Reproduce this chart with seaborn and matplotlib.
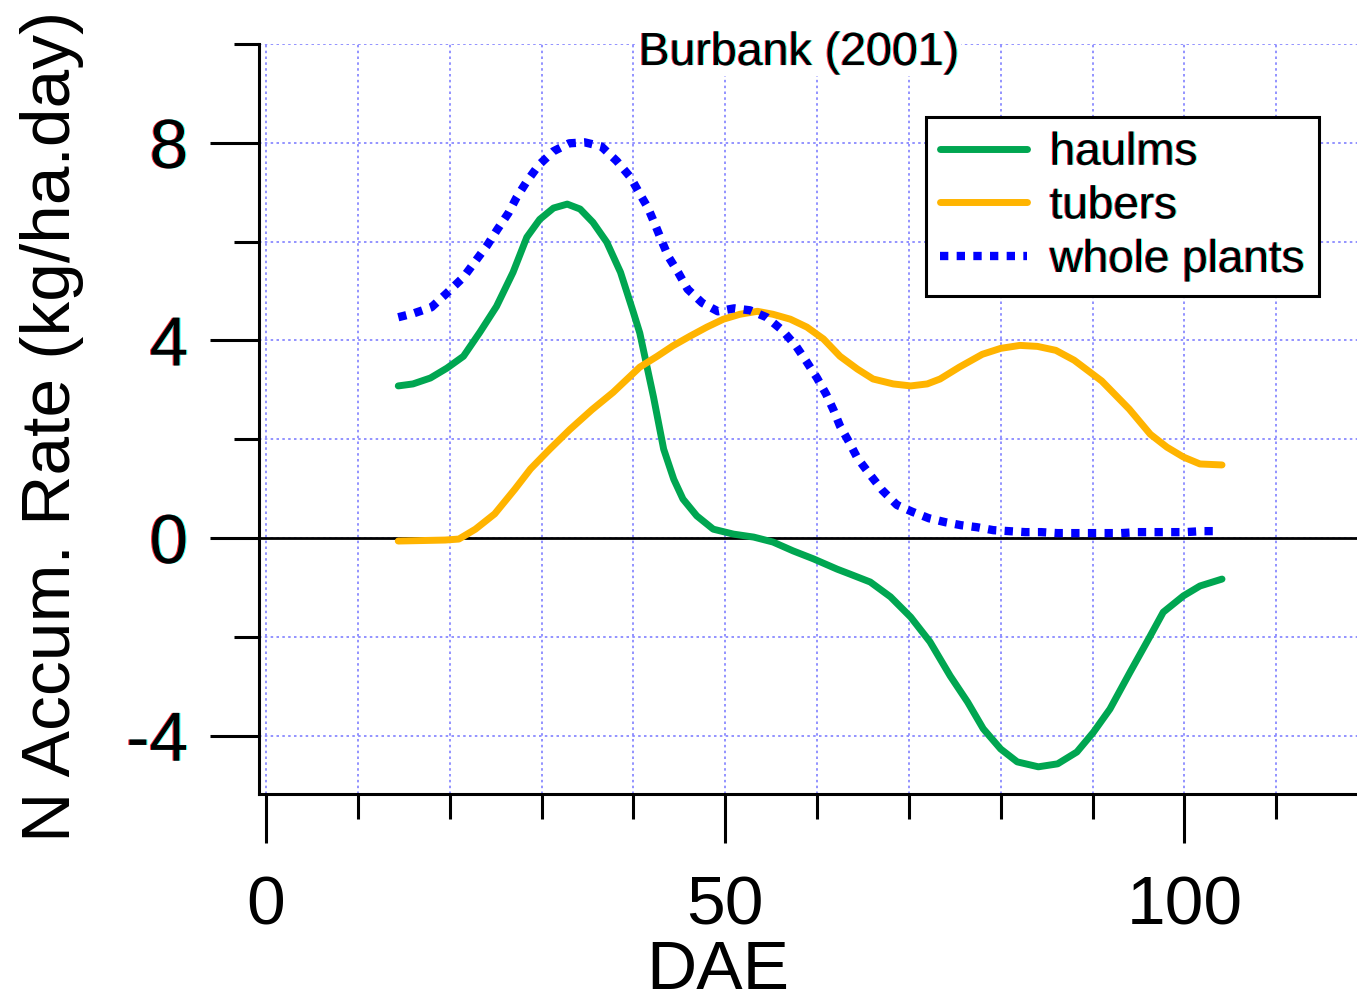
import pandas as pd
import matplotlib
matplotlib.use('Agg')
import matplotlib.pyplot as plt
import matplotlib.patheffects as pe
from matplotlib.ticker import MultipleLocator
import seaborn as sns

# haulms (DAE, rate)
haulms_x = [14.4, 16.0, 17.9, 19.7, 21.5, 23.3, 25.1, 26.9, 28.4, 29.8, 31.3, 32.8,
            34.2, 35.6, 37.1, 38.6, 40.0, 40.7, 42.2, 43.3, 44.4, 45.4, 46.9, 48.7,
            50.9, 53.1, 55.2, 57.4, 59.6, 62.2, 63.6, 65.8, 68.0, 70.2, 72.3, 74.5,
            76.4, 78.1, 80.0, 81.8, 84.1, 86.2, 88.3, 90.1, 91.9, 94.1, 96.2, 97.7,
            99.9, 101.7, 104.1]
haulms_y = [3.08, 3.12, 3.24, 3.44, 3.68, 4.17, 4.69, 5.38, 6.09, 6.45, 6.68, 6.76,
            6.66, 6.39, 5.99, 5.38, 4.57, 4.15, 2.85, 1.80, 1.19, 0.79, 0.45, 0.18,
            0.08, 0.02, -0.08, -0.26, -0.42, -0.63, -0.73, -0.89, -1.19, -1.60, -2.10, -2.79,
            -3.32, -3.86, -4.27, -4.53, -4.63, -4.57, -4.33, -3.93, -3.46, -2.71, -2.01, -1.50,
            -1.17, -0.97, -0.83]

# tubers
tubers_x = [14.4, 17.0, 19.5, 21.0, 22.8, 24.9, 27.1, 28.8, 30.9, 33.1, 35.5, 37.8,
            40.7, 42.6, 44.3, 46.2, 48.0, 49.8, 51.6, 53.5, 55.2, 57.1, 58.9, 60.7,
            62.5, 64.4, 66.1, 68.3, 70.2, 72.0, 73.4, 75.5, 78.0, 80.0, 82.1, 84.0,
            86.0, 88.0, 91.0, 94.0, 96.3, 98.1, 99.9, 101.7, 104.1]
tubers_y = [-0.06, -0.05, -0.04, -0.02, 0.18, 0.49, 0.99, 1.40, 1.80, 2.20, 2.60, 2.95,
            3.46, 3.68, 3.89, 4.09, 4.27, 4.43, 4.53, 4.59, 4.53, 4.43, 4.27, 4.03,
            3.68, 3.42, 3.22, 3.12, 3.08, 3.12, 3.22, 3.46, 3.72, 3.84, 3.90, 3.88,
            3.80, 3.60, 3.18, 2.61, 2.10, 1.84, 1.64, 1.50, 1.48]

# whole plants
whole_x = [14.4, 16.1, 18.0, 19.7, 21.5, 22.7, 24.1, 25.2, 26.4, 27.3, 28.4, 29.7,
           31.3, 33.0, 34.7, 36.5, 38.2, 39.7, 40.6, 41.6, 42.4, 43.1, 43.8, 44.9,
           45.9, 47.5, 49.2, 51.0, 52.7, 54.5, 56.2, 57.7, 58.9, 60.0, 61.0, 61.8,
           62.5, 63.5, 64.4, 65.7, 67.1, 68.7, 70.4, 72.2, 74.0, 75.7, 77.4, 79.2,
           80.9, 82.7, 84.4, 86.2, 87.9, 89.7, 91.4, 93.1, 94.9, 96.6, 98.4, 100.1,
           101.9, 104.0]
whole_y = [4.47, 4.55, 4.67, 4.96, 5.28, 5.58, 5.93, 6.25, 6.58, 6.90, 7.22, 7.55,
           7.83, 7.99, 8.01, 7.93, 7.63, 7.30, 7.00, 6.68, 6.33, 6.01, 5.70, 5.37,
           5.04, 4.76, 4.59, 4.65, 4.61, 4.47, 4.21, 3.89, 3.56, 3.24, 2.91, 2.59,
           2.27, 1.94, 1.62, 1.30, 0.97, 0.67, 0.53, 0.40, 0.32, 0.26, 0.22, 0.16,
           0.14, 0.12, 0.12, 0.10, 0.10, 0.10, 0.10, 0.10, 0.12, 0.12, 0.12, 0.12,
           0.14, 0.14]

df_h = pd.DataFrame({'DAE': haulms_x, 'rate': haulms_y})
df_t = pd.DataFrame({'DAE': tubers_x, 'rate': tubers_y})
df_w = pd.DataFrame({'DAE': whole_x, 'rate': whole_y})

sns.set_style('white')
plt.rcParams['font.family'] = ['Liberation Sans', 'DejaVu Sans']
plt.rcParams['axes.unicode_minus'] = False
plt.rcParams['text.color'] = 'black'
plt.rcParams['axes.labelcolor'] = 'black'
plt.rcParams['xtick.color'] = 'black'
plt.rcParams['ytick.color'] = 'black'

fig = plt.figure(figsize=(13.57, 10.03), dpi=100)
ax = fig.add_axes([0.1909, 0.2074, 0.8091, 0.7477])

sns.lineplot(x='DAE', y='rate', data=df_h, color='#00a651', lw=5, label='haulms', ax=ax)
sns.lineplot(x='DAE', y='rate', data=df_t, color='#ffb400', lw=5, label='tubers', ax=ax)
sns.lineplot(x='DAE', y='rate', data=df_w, color='#0000ff', lw=6,
             linestyle=(0, (1, 1)), label='whole plants', ax=ax)

ax.axhline(0, color='black', lw=2, zorder=1)

ax.set_xlim(-0.76, 118.8)
ax.set_ylim(-5.18, 10.0)
ax.xaxis.set_major_locator(MultipleLocator(50))
ax.xaxis.set_minor_locator(MultipleLocator(10))
ax.yaxis.set_major_locator(MultipleLocator(4))
ax.yaxis.set_minor_locator(MultipleLocator(2))
ax.grid(which='both', color='#8080ff', linestyle=(0, (1.5, 2)), lw=1.2)
ax.set_axisbelow(True)

for s in ['top', 'right']:
    ax.spines[s].set_visible(False)
for s in ['left', 'bottom']:
    ax.spines[s].set_color('black')
    ax.spines[s].set_linewidth(2.2)

ax.tick_params(which='major', direction='out', length=35, width=2.2, color='black',
               labelsize=50, labelcolor='black')
ax.tick_params(axis='y', which='major', pad=16)
ax.tick_params(axis='x', which='major', pad=22)
ax.tick_params(which='minor', direction='out', length=18, width=2.2, color='black')
ax.tick_params(axis='x', which='both', bottom=True)
ax.tick_params(axis='y', which='both', left=True)

fringe = [pe.SimplePatchShadow(offset=(-0.8, 0), shadow_rgbFace='red', alpha=0.8),
          pe.SimplePatchShadow(offset=(0.8, 0), shadow_rgbFace='cyan', alpha=0.8),
          pe.Normal()]
for t in ax.get_yticklabels():
    t.set_path_effects(fringe)

ax.set_xlabel('DAE', fontsize=50, color='black')
ax.xaxis.set_label_coords(0.418, -0.192)
ax.set_ylabel('N Accum. Rate (kg/ha.day)', fontsize=50, color='black')
ax.yaxis.set_label_coords(-0.159, 0.492)

ax.text(0.4918, 0.988, 'Burbank (2001)', transform=ax.transAxes, fontsize=33.5,
        ha='center', va='center', zorder=5, color='black', path_effects=fringe,
        bbox=dict(facecolor='white', edgecolor='none', pad=1))

leg = ax.legend(loc='upper left', bbox_to_anchor=(0.6075, 0.9027), borderaxespad=0,
                fontsize=33, handlelength=1.9, handletextpad=0.5,
                labelspacing=0.21, borderpad=0.3, fancybox=False, framealpha=1)
leg.get_frame().set_edgecolor('black')
leg.get_frame().set_linewidth(2.2)
for t in leg.get_texts():
    t.set_color('black')
    t.set_path_effects(fringe)

fig.savefig('out.png', dpi=100)
